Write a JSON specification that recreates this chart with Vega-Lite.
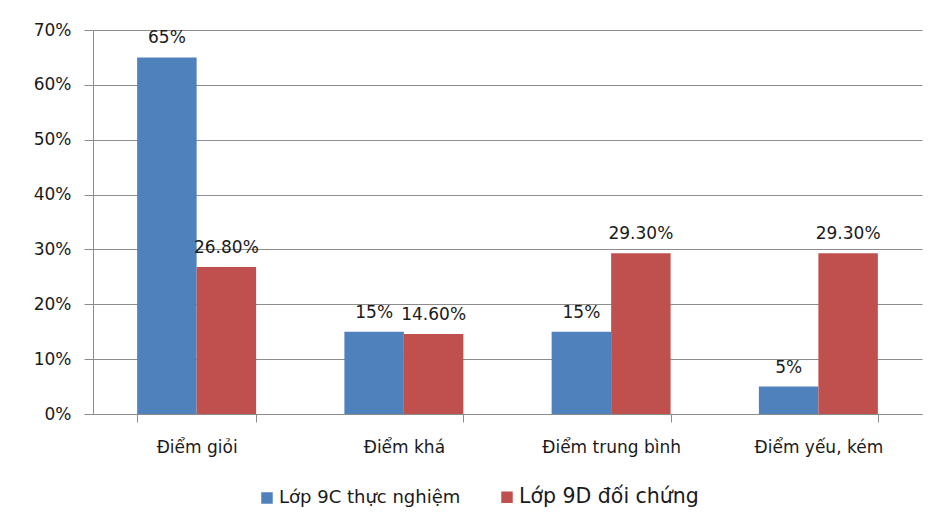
{
  "$schema": "https://vega.github.io/schema/vega-lite/v6.json",
  "width": 829,
  "height": 384,
  "autosize": {"type": "none"},
  "padding": {"left": 93, "top": 30, "right": 15, "bottom": 110},
  "background": "white",
  "config": {
    "view": {"stroke": null},
    "font": "DejaVu Sans",
    "axis": {"labelFont": "DejaVu Sans", "labelColor": "#1a1a1a"}
  },
  "data": {
    "values": [
      {"cat": "Điểm giỏi", "series": "Lớp 9C thực nghiệm", "value": 65, "label": "65%"},
      {"cat": "Điểm giỏi", "series": "Lớp 9D đối chứng", "value": 26.8, "label": "26.80%"},
      {"cat": "Điểm khá", "series": "Lớp 9C thực nghiệm", "value": 15, "label": "15%"},
      {"cat": "Điểm khá", "series": "Lớp 9D đối chứng", "value": 14.6, "label": "14.60%"},
      {"cat": "Điểm trung bình", "series": "Lớp 9C thực nghiệm", "value": 15, "label": "15%"},
      {"cat": "Điểm trung bình", "series": "Lớp 9D đối chứng", "value": 29.3, "label": "29.30%"},
      {"cat": "Điểm yếu, kém", "series": "Lớp 9C thực nghiệm", "value": 5, "label": "5%"},
      {"cat": "Điểm yếu, kém", "series": "Lớp 9D đối chứng", "value": 29.3, "label": "29.30%"}
    ]
  },
  "encoding": {
    "x": {
      "field": "cat", "type": "nominal", "sort": null,
      "scale": {"paddingInner": 0.426, "paddingOuter": 0.213},
      "axis": {
        "title": null, "labelAngle": 0, "tickBand": "extent", "grid": false,
        "domainColor": "#8c8c8c", "tickColor": "#8c8c8c", "tickSize": 8,
        "labelFontSize": 17, "labelPadding": 17
      }
    },
    "xOffset": {"field": "series", "type": "nominal", "sort": null},
    "y": {
      "field": "value", "type": "quantitative",
      "scale": {"domain": [0, 70]},
      "axis": {
        "title": null, "values": [0, 10, 20, 30, 40, 50, 60, 70],
        "labelExpr": "datum.value + '%'", "grid": true, "gridColor": "#8c8c8c",
        "domainColor": "#8c8c8c", "tickColor": "#8c8c8c", "tickSize": 9,
        "labelFontSize": 17, "labelPadding": 13
      }
    },
    "color": {
      "field": "series", "type": "nominal", "sort": null,
      "scale": {"range": ["#4F81BD", "#C0504D"]},
      "legend": {
        "title": null, "orient": "none", "direction": "horizontal",
        "legendX": 168, "legendY": 461,
        "symbolType": "square", "symbolSize": 132, "symbolStrokeWidth": 0,
        "labelFont": "DejaVu Sans", "labelColor": "#1a1a1a",
        "columnPadding": 40, "labelOffset": 6, "labelLimit": 400,
        "encoding": {"labels": {"fontSize": {"condition": {"test": "indexof(datum.label, '9D') >= 0", "value": 20.5}, "value": 18}}}
      }
    }
  },
  "layer": [
    {"mark": {"type": "bar", "opacity": 1}},
    {
      "mark": {"type": "text", "baseline": "alphabetic", "dy": -14, "fontSize": 17, "color": "#1a1a1a", "font": "DejaVu Sans"},
      "encoding": {"text": {"field": "label"}, "color": {"value": "#1a1a1a"}}
    }
  ]
}
